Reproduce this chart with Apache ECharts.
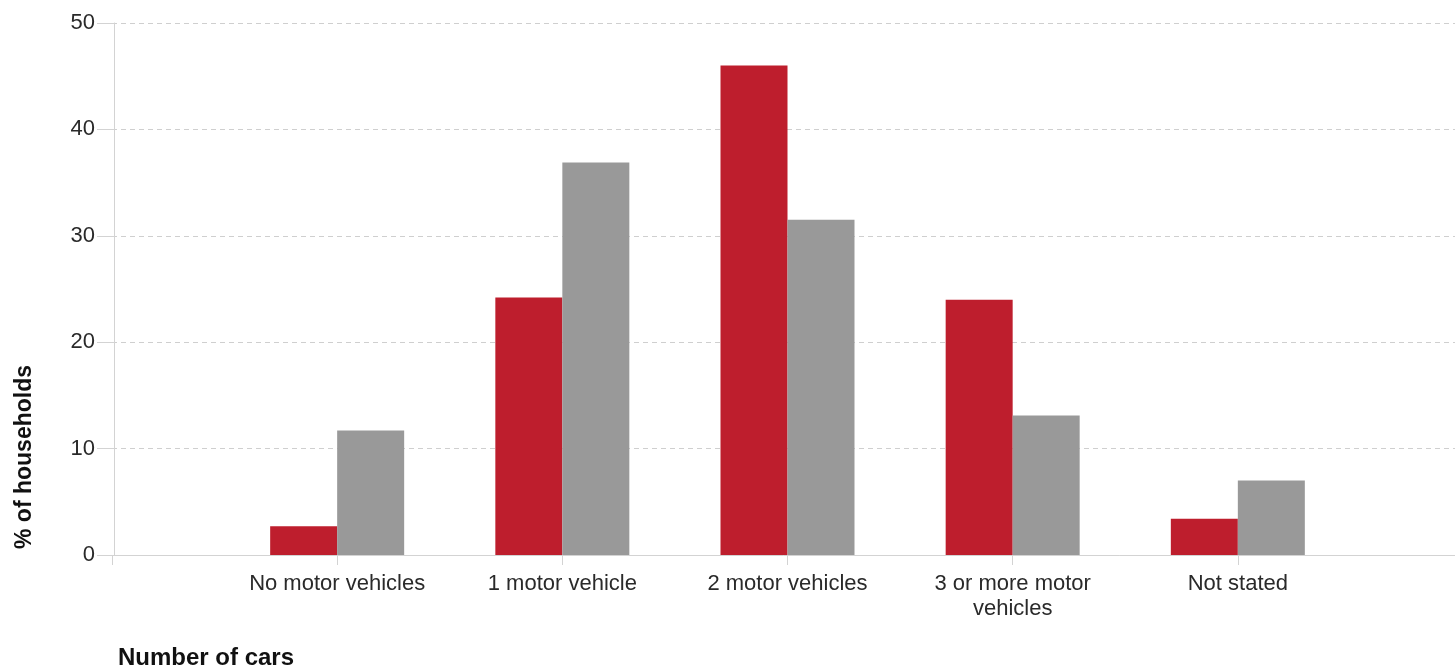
<!DOCTYPE html>
<html>
<head>
<meta charset="utf-8">
<script src="https://cdn.jsdelivr.net/npm/echarts@6/dist/echarts.min.js"></script>
<style>
  html, body { margin: 0; padding: 0; background: #fff; }
  #chart { width: 1455px; height: 669px; }
</style>
</head>
<body>
<div id="chart"></div>
<script>
// categories (empty slots at both ends give the side padding)
var categories = ['', 'No motor vehicles', '1 motor vehicle', '2 motor vehicles', '3 or more motor\nvehicles', 'Not stated', ''];
var redValues = [null, 2.7, 24.2, 46.0, 24.0, 3.4, null];
var greyValues = [null, 11.7, 36.9, 31.5, 13.1, 7.0, null];
var yTicks = [0, 10, 20, 30, 40, 50];

var chart = echarts.init(document.getElementById('chart'));
var option = {
    animation: false,
    grid: {
        left: 112, width: 1351, top: 23, bottom: 114,
        containLabel: false,
        outerBoundsMode: 'none'
    },
    xAxis: {
        type: 'category',
        data: categories,
        boundaryGap: false,
        axisLine: { lineStyle: { color: '#d3d3d3' } },
        axisTick: { show: true, length: 10, lineStyle: { color: '#d3d3d3' } },
        axisLabel: {
            margin: 16,
            interval: 0,
            color: '#2a2a2a',
            fontFamily: 'Liberation Sans, Arial, sans-serif',
            fontSize: 22,
            lineHeight: 25
        },
        splitLine: { show: false }
    },
    yAxis: {
        type: 'value',
        min: yTicks[0],
        max: yTicks[yTicks.length - 1],
        interval: 10,
        offset: -2,
        axisLine: { show: true, lineStyle: { color: '#d3d3d3' } },
        axisTick: { show: true, length: 17, lineStyle: { color: '#d3d3d3' } },
        axisLabel: {
            margin: 19,
            color: '#2a2a2a',
            fontFamily: 'Liberation Sans, Arial, sans-serif',
            fontSize: 22
        },
        splitLine: { show: true, lineStyle: { color: '#cfcfcf', type: [5, 4] } }
    },
    series: [
        {
            name: 'Red',
            type: 'bar',
            data: redValues,
            barWidth: 67,
            barGap: '0%',
            itemStyle: { color: '#be1e2d' }
        },
        {
            name: 'Grey',
            type: 'bar',
            data: greyValues,
            barWidth: 67,
            barGap: '0%',
            itemStyle: { color: '#999999' }
        }
    ],
    graphic: [
        {
            type: 'text',
            x: 118,
            y: 658,
            style: {
                text: 'Number of cars',
                fill: '#111',
                font: 'bold 24px Liberation Sans, Arial, sans-serif',
                verticalAlign: 'middle'
            }
        },
        {
            type: 'text',
            x: 25,
            y: 457,
            rotation: Math.PI / 2,
            style: {
                text: '% of households',
                fill: '#111',
                font: 'bold 23px Liberation Sans, Arial, sans-serif',
                align: 'center',
                verticalAlign: 'middle'
            }
        }
    ]
};
chart.setOption(option);
</script>
</body>
</html>
